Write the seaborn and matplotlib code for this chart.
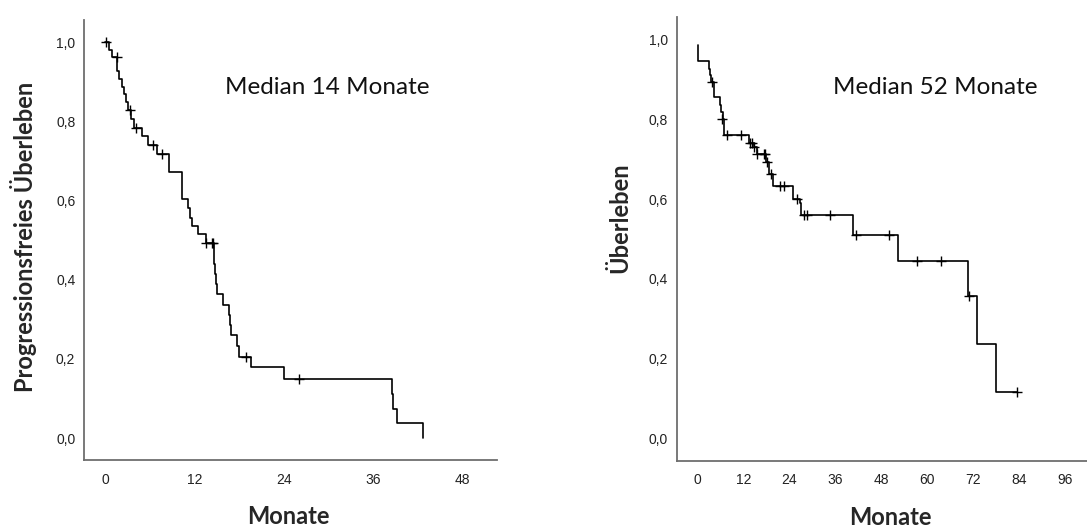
import pandas as pd
import seaborn as sns
import matplotlib.pyplot as plt

# progression-free survival (left panel): step times / survival after each step
pfs_time = [0, 0.45, 0.9, 1.6, 1.9, 2.2, 2.5, 2.8, 3.1, 3.5, 3.9,
            5.0, 5.8, 7.0, 8.6, 10.3, 11.1, 11.4, 11.7, 12.5, 13.5,
            14.6, 14.7, 14.8, 14.9, 15.0, 15.9, 16.7, 16.8, 16.9,
            17.7, 18.0, 19.6, 24.1, 38.6, 38.7, 39.2, 42.7]
pfs_surv = [1.0, 0.981, 0.962, 0.926, 0.907, 0.888, 0.868, 0.848, 0.828, 0.805, 0.784,
            0.762, 0.740, 0.718, 0.672, 0.604, 0.582, 0.556, 0.536, 0.516, 0.493,
            0.467, 0.441, 0.415, 0.390, 0.365, 0.337, 0.311, 0.286, 0.261,
            0.233, 0.205, 0.180, 0.150, 0.112, 0.074, 0.039, 0.0]
pfs_cens_time = [0.15, 1.55, 3.4, 4.2, 6.4, 7.6, 13.6, 14.3, 14.5, 19.0, 26.0]
pfs_cens_surv = [1.0, 0.962, 0.828, 0.784, 0.740, 0.718, 0.493, 0.493, 0.493, 0.205, 0.150]

# overall survival (right panel)
os_time = [0, 0, 3.0, 3.3, 3.5, 4.3, 5.7, 6.1, 6.6, 7.0,
           13.5, 14.6, 15.4, 17.9, 18.7, 19.6, 24.9, 26.6, 27.0,
           40.6, 52.3, 70.7, 72.9, 78.0, 83.3]
os_surv = [0.985, 0.946, 0.927, 0.910, 0.892, 0.856, 0.835, 0.818, 0.800, 0.760,
           0.741, 0.731, 0.714, 0.692, 0.664, 0.633, 0.600, 0.589, 0.560,
           0.510, 0.446, 0.357, 0.2375, 0.118, 0.118]
os_cens_time = [3.7, 6.3, 7.6, 11.3, 13.7, 14.3, 14.7, 15.6, 17.2, 17.6, 18.2,
                19.1, 21.5, 22.6, 25.9, 27.8, 28.5, 34.6, 41.4, 49.9, 57.3,
                63.7, 71.0, 83.3]
os_cens_surv = [0.892, 0.800, 0.760, 0.760, 0.741, 0.741, 0.731, 0.714, 0.714, 0.714, 0.692,
                0.664, 0.633, 0.633, 0.600, 0.560, 0.560, 0.560, 0.510, 0.510, 0.446,
                0.446, 0.357, 0.118]

y_ticks = [0.0, 0.2, 0.4, 0.6, 0.8, 1.0]
y_ticklabels = ["0,0", "0,2", "0,4", "0,6", "0,8", "1,0"]
pfs_xticks = [0, 12, 24, 36, 48]
os_xticks = [0, 12, 24, 36, 48, 60, 72, 84, 96]

sns.set_style("white")
plt.rcParams["font.family"] = ["Liberation Sans Narrow", "Liberation Sans", "DejaVu Sans"]

fig = plt.figure(figsize=(10.87, 5.28), dpi=100)
ax1 = fig.add_axes([0.0776, 0.1282, 0.3797, 0.8339])
ax2 = fig.add_axes([0.6225, 0.1269, 0.3894, 0.8409])

panels = [
    (ax1, pfs_time, pfs_surv, pfs_cens_time, pfs_cens_surv, pfs_xticks, (-2.8, 52.7),
     "Progressionsfreies Überleben", "Median 14 Monate", (-0.1485, 0.507), (0.589, 0.831), 0.494),
    (ax2, os_time, os_surv, os_cens_time, os_cens_surv, os_xticks, (-5.5, 105.1),
     "Überleben", "Median 52 Monate", (-0.134, 0.547), (0.611, 0.826), 0.504),
]

for ax, t, s, ct, cs, xt, xlim, ylab, med, ylab_pos, med_pos, xlab_x in panels:
    curve = pd.DataFrame({"Monate": t, "Survival": s})
    cens = pd.DataFrame({"Monate": ct, "Survival": cs})
    sns.lineplot(data=curve, x="Monate", y="Survival", ax=ax, drawstyle="steps-post",
                 color="black", linewidth=1.2, sort=False, estimator=None)
    sns.scatterplot(data=cens, x="Monate", y="Survival", ax=ax, marker="+", s=55,
                    color="black", linewidth=1.0, zorder=3)

    ax.set_xlim(*xlim)
    ax.set_ylim(-0.056, 1.056)
    ax.set_xticks(xt)
    ax.set_xticklabels([str(v) for v in xt], fontsize=10)
    ax.set_yticks(y_ticks)
    ax.set_yticklabels(y_ticklabels, fontsize=10)
    ax.tick_params(axis="both", direction="out", length=5, width=1.2, color="#333333",
                   labelcolor="#222222", pad=1.5)
    ax.tick_params(axis="x", pad=4)

    for side in ["top", "right"]:
        ax.spines[side].set_visible(False)
    for side in ["left", "bottom"]:
        ax.spines[side].set_color("#6e6e6e")
        ax.spines[side].set_linewidth(1.3)

    ax.set_ylabel(ylab, fontsize=17, fontweight="bold", family="Lato", va="center")
    ax.yaxis.set_label_coords(*ylab_pos)
    ax.set_xlabel("Monate", fontsize=17, fontweight="bold", family="Lato", va="center")
    ax.xaxis.set_label_coords(xlab_x, -0.128)

    ax.text(med_pos[0], med_pos[1], med, transform=ax.transAxes, ha="center",
            va="baseline", fontsize=17.5, family="Lato", color="#111111")

fig.savefig("out.png", dpi=100)
